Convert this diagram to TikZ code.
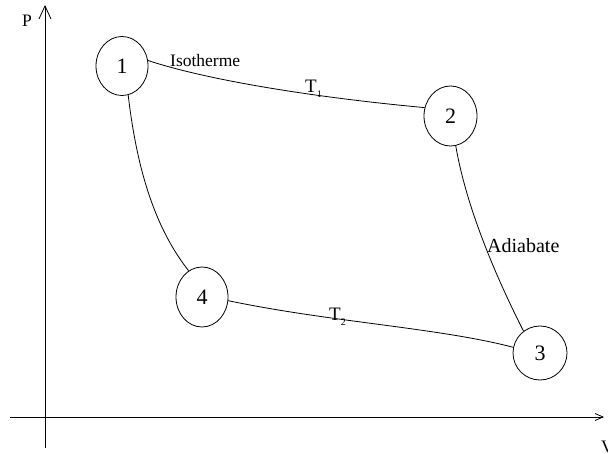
\documentclass[tikz,border=0pt]{standalone}
\usepackage{fontspec}
\setmainfont{Liberation Serif}
\usetikzlibrary{shapes.geometric,arrows.meta}
\begin{document}
\begin{tikzpicture}[x=1pt,y=-1pt,
  state/.style={draw,ellipse,inner sep=0pt,line width=0.8pt,font=\fontsize{22}{22}\selectfont},
  curve/.style={line width=0.8pt},
  axis/.style={line width=0.8pt},
  lbl/.style={anchor=base west,inner sep=0pt}]
\useasboundingbox (0,0) rectangle (608,454);
% axes
\coordinate (ybot) at (45,448);
\coordinate (ytop) at (45,5);
\coordinate (xl) at (10,417);
\coordinate (xr) at (604,417);
\draw[axis,-{Straight Barb[length=13pt,width=12pt]}] (ybot) -- (ytop);
\draw[axis,-{Straight Barb[length=8pt,width=7pt]}] (xl) -- (xr);
\node[lbl,font=\fontsize{17.5}{17.5}\selectfont] (P) at (22,27) {P};
\node[lbl,font=\fontsize{17.5}{17.5}\selectfont] (V) at (601,452) {V};
% states
\node[state,minimum width=52pt,minimum height=59pt] (n1) at (122,66) {1};
\node[state,minimum width=53pt,minimum height=60pt] (n2) at (450.5,116) {2};
\node[state,minimum width=54pt,minimum height=54pt] (n3) at (540,353) {3};
\node[state,minimum width=52pt,minimum height=60pt] (n4) at (202,297) {4};
% processes
\draw[curve] (n1.12) .. controls (210,81) and (320,98) .. (n2.162);
\draw[curve] (n2.-80) .. controls (465,200) and (490,265) .. (n3.127);
\draw[curve] (n4.-8) .. controls (330,322) and (440,328) .. (n3.168);
\draw[curve] (n1.-78) .. controls (137,170) and (155,228) .. (n4.117);
% labels
\node[lbl,font=\fontsize{17.5}{17.5}\selectfont] (iso) at (170,67) {Isotherme};
\node[lbl,font=\fontsize{19}{19}\selectfont] (t1) at (305,93) {T\raisebox{-5pt}{\fontsize{10}{10}\selectfont 1}};
\node[lbl,font=\fontsize{19}{19}\selectfont] (t2) at (329,321) {T\raisebox{-5pt}{\fontsize{10}{10}\selectfont 2}};
\node[lbl,font=\fontsize{20}{20}\selectfont] (adi) at (487,253) {Adiabate};
\end{tikzpicture}
\end{document}
